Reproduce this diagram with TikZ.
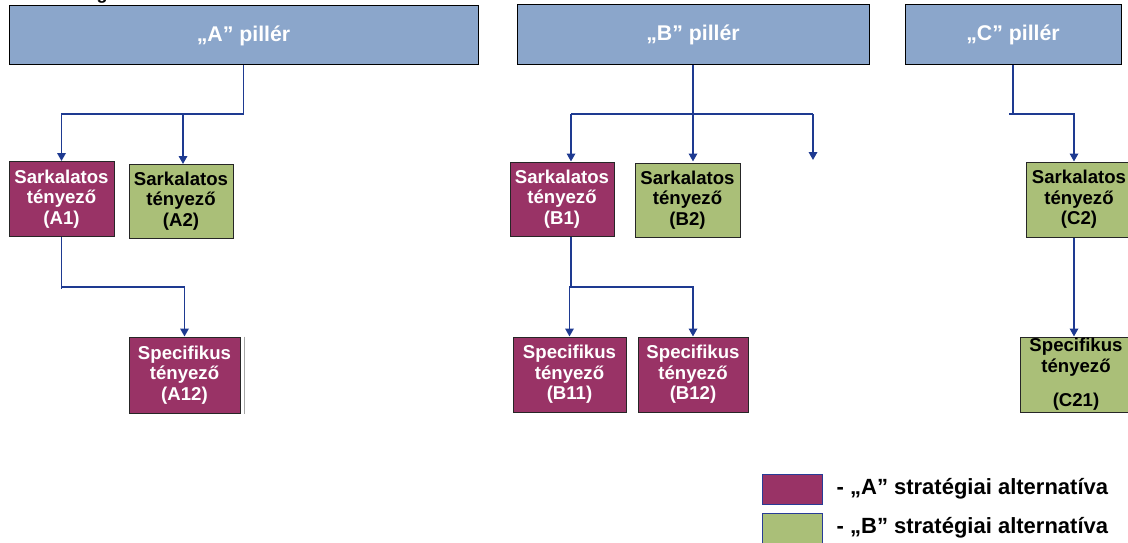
\documentclass[tikz,border=0pt]{standalone}
\usepackage{fontspec}
\setmainfont{Liberation Sans}
\usetikzlibrary{arrows.meta}

\definecolor{pillarfill}{RGB}{139,166,203}
\definecolor{plum}{RGB}{153,51,102}
\definecolor{olive}{RGB}{170,191,120}
\definecolor{linkblue}{RGB}{30,58,145}
\definecolor{legendedge}{RGB}{40,60,150}

\tikzset{
  pillar/.style={draw=black, line width=1pt, fill=pillarfill, inner sep=0pt,
    text=white, font=\bfseries\fontsize{21.3}{24}\selectfont},
  factor/.style={draw=black!85, line width=1pt, inner sep=0pt, align=center,
    font=\bfseries\fontsize{18.6}{20.5}\selectfont},
  altA/.style={factor, fill=plum, text=white},
  altB/.style={factor, fill=olive, text=black},
  link/.style={draw=linkblue, line width=1.7pt},
  arrowlink/.style={link, -{Triangle[length=8pt,width=8.5pt]}},
  swatch/.style={draw=legendedge, line width=1pt, inner sep=0pt,
    minimum width=60pt, minimum height=30pt},
  legendtext/.style={anchor=west, inner sep=0pt, font=\bfseries\fontsize{22}{24}\selectfont}
}

\begin{document}
\begin{tikzpicture}[x=1pt, y=-1pt]
\useasboundingbox (0,0) rectangle (1128,543);

% fragment of a heading above the picture
\node[anchor=base, inner sep=0pt, font=\bfseries\fontsize{18}{20}\selectfont] (frag) at (102,-0.5) {g};

% pillars
\node[pillar, minimum width=469pt, minimum height=59pt] (Ap) at (243.5,35.5) {„A” pillér};
\node[pillar, minimum width=352pt, minimum height=60pt] (Bp) at (693,35) {„B” pillér};
\node[pillar, minimum width=216pt, minimum height=60pt] (Cp) at (1013,35) {„C” pillér};

% key factors
\node[altA, minimum width=105pt, minimum height=75pt] (A1) at (61.5,199) {Sarkalatos\\tényező\\(A1)};
\node[altB, minimum width=104pt, minimum height=74pt] (A2) at (181,201) {Sarkalatos\\tényező\\(A2)};
\node[altA, minimum width=104pt, minimum height=74pt] (B1) at (562,199) {Sarkalatos\\tényező\\(B1)};
\node[altB, minimum width=105pt, minimum height=74pt] (B2) at (687.5,200) {Sarkalatos\\tényező\\(B2)};
\node[altB, minimum width=106pt, minimum height=75pt] (C2) at (1079,199.5) {Sarkalatos\\tényező\\(C2)};

% specific factors
\node[altA, minimum width=111pt, minimum height=76pt] (A12) at (184.5,375) {Specifikus\\tényező\\(A12)};
\node[altA, minimum width=113pt, minimum height=75pt] (B11) at (569.5,374.5) {Specifikus\\tényező\\(B11)};
\node[altA, minimum width=110pt, minimum height=75pt] (B12) at (693,374.5) {Specifikus\\tényező\\(B12)};
\node[altB, minimum width=112pt, minimum height=75pt] (C21) at (1076,374.5) {Specifikus\\tényező\\[14pt](C21)};

% thin rule beside A12
\draw[black!35, line width=0.8pt] (A12.north east) ++(4,0) coordinate (ruletop) -- (ruletop |- A12.south);

% helper coordinates for the connector rails
\coordinate (railtop) at (0,114);
\coordinate (raillow) at (0,287);
\coordinate (b1x) at (571,0);
\coordinate (c2x) at (1074,0);
\coordinate (bfree) at (813,160);
\coordinate (cstub) at (1009,114);

% A pillar
\draw[link] (Ap.south) -- (Ap.south |- railtop);
\draw[arrowlink] (Ap.south |- railtop) -| (A1.north);
\draw[arrowlink] (A2.north |- railtop) ++(2,0) -- ++(0,50);
\draw[link] (A1.south) -- ++(0,52);
\draw[arrowlink] (A1.south |- raillow) -| (A12.north);

% B pillar
\draw[link] (Bp.south) -- (Bp.south |- railtop);
\draw[arrowlink] (Bp.south |- railtop) -- (Bp.south |- B1.north);
\draw[link] (b1x |- railtop) -- (bfree |- railtop);
\draw[arrowlink] (b1x |- railtop) -- (b1x |- B1.north);
\draw[arrowlink] (bfree |- railtop) -- (bfree);
\draw[link] (b1x |- B1.south) -- (b1x |- raillow);
\draw[arrowlink] (b1x |- raillow) -| (B11.north);
\draw[arrowlink] (b1x |- raillow) -| (B12.north);

% C pillar
\draw[link] (Cp.south) -- (Cp.south |- railtop);
\draw[arrowlink] (cstub) -| (c2x |- C2.north);
\draw[arrowlink] (c2x |- C2.south) -- (c2x |- C21.north);

% legend
\node[swatch, fill=plum] (keyA) at (792,489) {};
\node[swatch, fill=olive] (keyB) at (792,528) {};
\node[legendtext] (labA) at (836.5,489) {- „A” stratégiai alternatíva};
\node[legendtext] (labB) at (836.5,528) {- „B” stratégiai alternatíva};
\end{tikzpicture}
\end{document}
